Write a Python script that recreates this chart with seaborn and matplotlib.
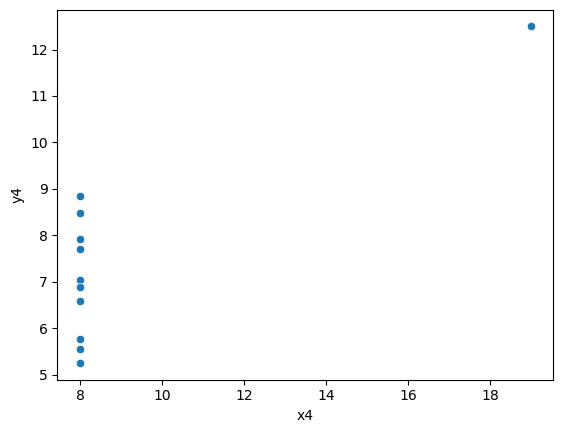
import matplotlib
matplotlib.use("Agg")
import matplotlib.pyplot as plt
import seaborn as sns
import pandas as pd

x4 = [8, 8, 8, 8, 8, 8, 8, 19, 8, 8, 8]
y4 = [6.58, 5.76, 7.71, 8.84, 8.47, 7.04, 5.25, 12.50, 5.56, 7.91, 6.89]


def main():
    data = pd.DataFrame({'x4': x4, 'y4': y4})

    fig, ax = plt.subplots(figsize=(5.63, 4.32), dpi=100)
    fig.subplots_adjust(left=0.102, right=0.983, top=0.978, bottom=0.121)
    sns.scatterplot(x='x4', y='y4', data=data, ax=ax)

    plt.savefig('out.png', dpi=100)


if __name__ == '__main__':
    main()
